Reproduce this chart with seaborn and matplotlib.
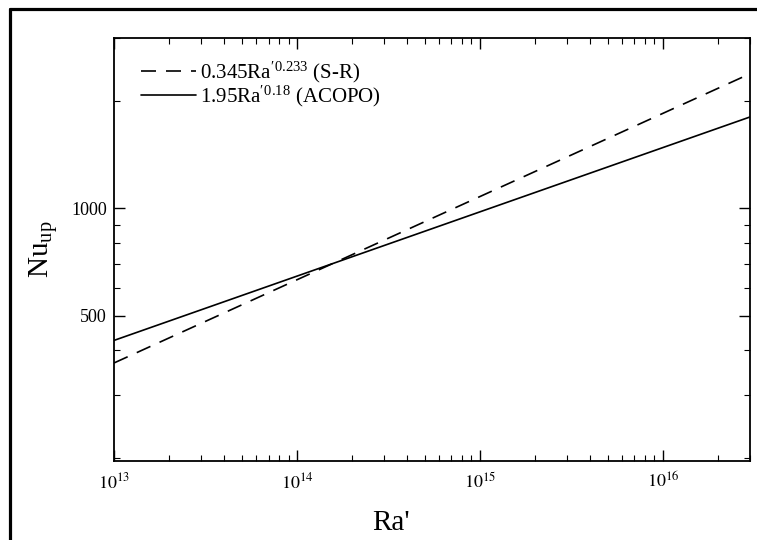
import numpy as np
import pandas as pd
import matplotlib
matplotlib.use("Agg")
import matplotlib.pyplot as plt
from matplotlib.ticker import FixedLocator, NullFormatter, FixedFormatter
from matplotlib.lines import Line2D
import seaborn as sns

# Correlations Nu_up = C * Ra'^n, evaluated over the plotted Ra' range
ra_range = [1e13, 3e16]
coef_sr, expo_sr = 0.345, 0.233
coef_acopo, expo_acopo = 1.95, 0.18
label_sr = r"$\mathregular{0.345Ra'^{0.233}}$ (S-R)"
label_acopo = r"$\mathregular{1.95Ra'^{0.18}}$ (ACOPO)"

x_major = [1e13, 1e14, 1e15, 1e16]
x_major_labels = [r"$10^{13}$", r"$10^{14}$", r"$10^{15}$", r"$10^{16}$"]
y_major = [500, 1000]
y_major_labels = ["500", "1000"]
y_minor = [200, 300, 400, 600, 700, 800, 900, 2000, 3000]

ra = np.array(ra_range)
df = pd.concat([
    pd.DataFrame({"Ra": ra, "Nu": coef_sr * ra ** expo_sr, "corr": label_sr}),
    pd.DataFrame({"Ra": ra, "Nu": coef_acopo * ra ** expo_acopo, "corr": label_acopo}),
])

sns.set_style("ticks")
plt.rcParams["font.family"] = ["Liberation Serif", "DejaVu Serif"]
plt.rcParams["mathtext.fontset"] = "stix"
for key in ["text.color", "axes.labelcolor", "xtick.color", "ytick.color"]:
    plt.rcParams[key] = "black"

fig = plt.figure(figsize=(7.57, 5.40), dpi=100)
ax = fig.add_axes([114 / 757, 1 - 461 / 540, 636 / 757, 423 / 540])

sns.lineplot(data=df, x="Ra", y="Nu", hue="corr", style="corr",
             palette=["black", "black"],
             dashes={label_sr: (9, 6), label_acopo: ""},
             linewidth=1.2, ax=ax)

ax.set_xscale("log")
ax.set_yscale("log")
ax.set_xlim(1e13, 3e16)
ax.set_ylim(196, 3000)

ax.xaxis.set_major_locator(FixedLocator(x_major))
ax.xaxis.set_major_formatter(FixedFormatter(x_major_labels))
minor_x = [m * 10.0 ** e for e in range(13, 17) for m in range(2, 10) if m * 10.0 ** e <= 3e16]
ax.xaxis.set_minor_locator(FixedLocator(minor_x))
ax.xaxis.set_minor_formatter(NullFormatter())
ax.yaxis.set_major_locator(FixedLocator(y_major))
ax.yaxis.set_major_formatter(FixedFormatter(y_major_labels))
ax.yaxis.set_minor_locator(FixedLocator(y_minor))
ax.yaxis.set_minor_formatter(NullFormatter())

ax.tick_params(which="both", direction="in", top=True, right=True, colors="black")
ax.tick_params(which="major", length=8, width=1.0, labelsize=13)
ax.tick_params(axis="x", which="major", pad=8)
ax.tick_params(axis="y", which="major", pad=5)
ax.tick_params(which="minor", length=4, width=0.8)
for s in ax.spines.values():
    s.set_linewidth(1.3)
    s.set_color("black")

ax.set_xlabel("Ra'", fontsize=21)
ax.xaxis.set_label_coords(0.436, -0.115)
ax.set_ylabel(r"$\mathregular{Nu_{up}}$", fontsize=21, labelpad=8)

leg = ax.legend(loc="upper left", frameon=False, fontsize=15,
                handlelength=2.6, handletextpad=0.2, borderaxespad=0.0,
                labelspacing=-0.08, bbox_to_anchor=(0.03, 0.968))

# frame lines along the top and left of the figure
fig.add_artist(Line2D([10 / 757, 1.0], [1 - 9 / 540, 1 - 9 / 540],
                      transform=fig.transFigure, color="black", linewidth=2.3))
fig.add_artist(Line2D([10 / 757, 10 / 757], [0.0, 1 - 9 / 540],
                      transform=fig.transFigure, color="black", linewidth=2.3))

fig.savefig("out.png", dpi=100, facecolor="white")
